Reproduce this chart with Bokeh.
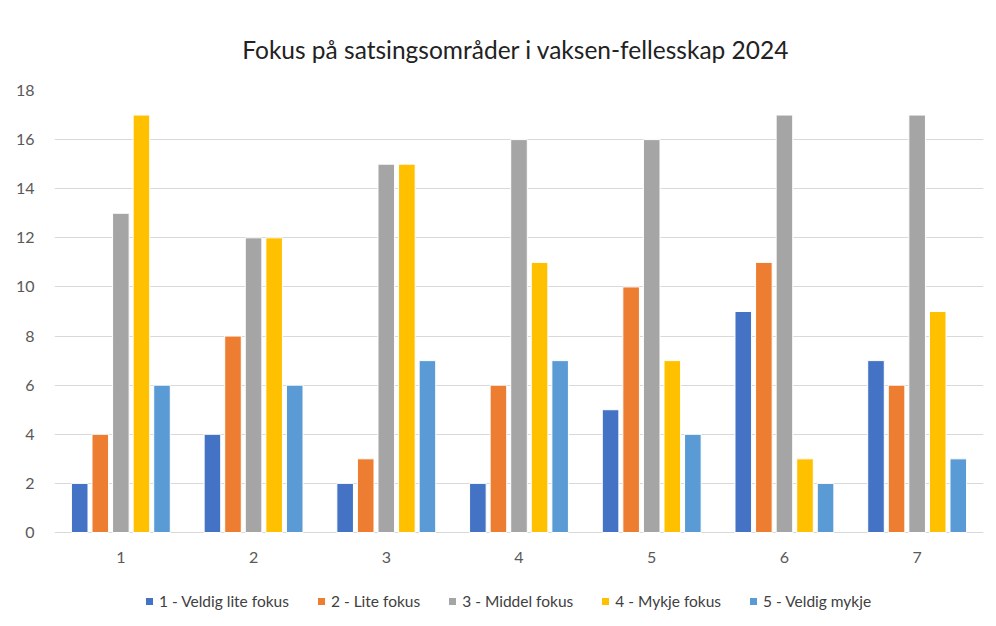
from bokeh.plotting import figure
from bokeh.models import FactorRange, ColumnDataSource, Legend, LegendItem, Range1d, FixedTicker
from bokeh.core.properties import value
from bokeh.transform import dodge
from bokeh.embed import file_html
from bokeh.resources import INLINE

categories = ["1", "2", "3", "4", "5", "6", "7"]
series_names = ["1 - Veldig lite fokus", "2 - Lite fokus", "3 - Middel fokus", "4 - Mykje fokus", "5 - Veldig mykje"]
s1 = [2, 4, 2, 2, 5, 9, 7]
s2 = [4, 8, 3, 6, 10, 11, 6]
s3 = [13, 12, 15, 16, 16, 17, 17]
s4 = [17, 12, 15, 11, 7, 3, 9]
s5 = [6, 6, 7, 7, 4, 2, 3]
y_ticks = [0, 2, 4, 6, 8, 10, 12, 14, 16, 18]
colors = ["#4472C4", "#ED7D31", "#A5A5A5", "#FFC000", "#5B9BD5"]

FONT = "Lato"
Y_MAX = 18
PX_PER_UNIT = 442 / Y_MAX
BELOW_PX = 84

src = ColumnDataSource(dict(cat=categories, s1=s1, s2=s2, s3=s3, s4=s4, s5=s5,
                            base=[0] * len(categories)))

p = figure(x_range=FactorRange(*categories), y_range=Range1d(-BELOW_PX / PX_PER_UNIT, Y_MAX),
           frame_width=929, frame_height=442 + BELOW_PX, output_backend="svg", toolbar_location=None,
           min_border_left=54, min_border_right=7, min_border_top=90, min_border_bottom=2)
p.outline_line_color = None

p.title.text = "Fokus på satsingsområder  i vaksen-fellesskap 2024"
p.title.align = "center"
p.title.text_font = FONT
p.title.text_font_size = "24.5px"
p.title.text_font_style = "normal"
p.title.text_color = "#222222"
p.title.standoff = 54

offsets = [-0.31, -0.155, 0.0, 0.155, 0.31]
keys = ["s1", "s2", "s3", "s4", "s5"]
items = []
for k, off, c, name in zip(keys, offsets, colors, series_names):
    r = p.vbar(x=dodge("cat", off, range=p.x_range), top=k, width=0.125, source=src,
               fill_color=c, line_color="white", line_width=1)
    items.append(LegendItem(label=name, renderers=[r]))

# category labels under the zero line
p.text(x="cat", y="base", text="cat", source=src, y_offset=25,
       text_font=value(FONT), text_font_size="16px", text_color="#595959",
       text_align="center", text_baseline="middle")

p.xaxis.visible = False
p.xgrid.grid_line_color = None
p.ygrid.grid_line_color = "#d9d9d9"
p.ygrid.ticker = FixedTicker(ticks=y_ticks)
p.yaxis.ticker = FixedTicker(ticks=y_ticks)

p.yaxis.axis_line_color = None
p.yaxis.major_tick_line_color = None
p.yaxis.minor_tick_line_color = None
p.yaxis.major_label_standoff = 14
p.yaxis.major_label_text_font = FONT
p.yaxis.major_label_text_font_size = "16px"
p.yaxis.major_label_text_color = "#595959"

legend = Legend(items=items, orientation="horizontal", location=(90, 6),
                label_text_font=FONT, label_text_font_size="15.5px", label_text_color="#404040",
                glyph_width=10, glyph_height=10, spacing=27, label_standoff=5,
                label_height=16, border_line_color=None, background_fill_alpha=0,
                padding=4, margin=0)
p.add_layout(legend)

open("out.html", "w").write(file_html(p, INLINE))
